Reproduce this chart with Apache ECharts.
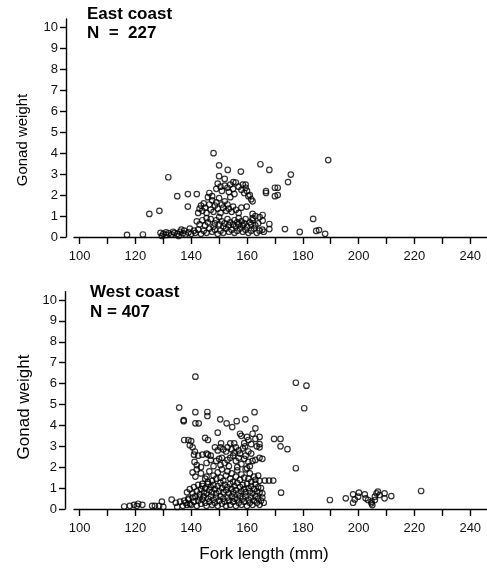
<!DOCTYPE html>
<html>
<head>
<meta charset="utf-8">
<script src="https://cdn.jsdelivr.net/npm/echarts@6/dist/echarts.min.js"></script>
<style>
html,body{margin:0;padding:0;background:#fff;}
#chart{width:487px;height:568px;}
</style>
</head>
<body>
<div id="chart"></div>
<script>
// ---- Data ----
const xTicks = [100,110,120,130,140,150,160,170,180,190,200,210,220,230,240];
const xLabels = [100,120,140,160,180,200,220,240];
const yTicks = [0,1,2,3,4,5,6,7,8,9,10];

const eastCoast = [
  [117,0.1],[122.7,0.12],[125,1.1],[128.6,1.25],[131.8,2.85],[135,1.95],[138.8,2.05],[142,2.05],[138.8,1.45],
  [148,4.0],[150,3.42],[153.1,3.2],[157.8,3.12],[164.8,3.47],[168,3.2],[175.7,2.98],[174.7,2.62],[189.1,3.67],
  [178.9,0.24],[183.7,0.86],[184.8,0.29],[185.8,0.33],[188,0.15],[173.6,0.38],[168,0.62],[168,0.38],
  [150,2.9],[152,2.77],[155.1,2.62],
  [129,0.2],[130,0.15],[131,0.22],[132,0.18],[133,0.12],[134,0.2],[135,0.15],[136,0.25],[137,0.18],[137.5,0.3],
  [138,0.12],[139,0.22],[139.5,0.4],[140,0.15],[141,0.3],[129.5,0.05],[131,0.1],[133.5,0.25],[135.5,0.05],[136.5,0.35],
  [141.5,0.2],[142.5,0.35],[143.5,0.15],[144.5,0.3],[145.5,0.2],[146.5,0.4],[147.5,0.25],[148.5,0.35],[149.5,0.15],
  [150.5,0.3],[151.5,0.2],[152.5,0.4],[153.5,0.25],[154.5,0.35],[155.5,0.2],[156.5,0.3],[157.5,0.4],[158.5,0.25],
  [159.5,0.35],[160.5,0.2],[161.5,0.3],[162.5,0.4],[163.5,0.2],[164.5,0.3],[165.5,0.35],[166,0.25],
  [142,0.75],[143,0.6],[144,0.8],[145,0.55],[146,0.7],[147,0.85],[148,0.5],[148.5,0.65],[149,0.8],[150,0.6],
  [151,0.75],[151.5,0.5],[152,0.65],[153,0.85],[153.5,0.55],[154,0.7],[155,0.6],[155.5,0.8],[156,0.5],[156.5,0.7],
  [157,0.6],[158,0.75],[158.5,0.55],[159,0.65],[159.5,0.85],[160,0.5],[161,0.7],[161.5,0.6],[162,0.8],[163,0.55],
  [164,0.65],[145.5,0.9],[150,0.95],[157,0.9],[162,0.9],
  [142.5,1.15],[143,1.35],[143.5,1.5],[144,1.25],[144.5,1.6],[145,1.4],[145.5,1.15],[146,1.9],[146.5,1.55],[147,1.3],
  [147.5,1.75],[148,1.2],[148.5,1.5],[149,1.65],[149.5,1.35],[150,1.85],[150.5,1.15],[151,1.55],[151.5,1.4],[152,1.7],
  [152.5,1.25],[153,1.55],[153.5,1.35],[154,1.9],[154.5,1.2],[155,1.45],[156,1.3],[157,1.15],[158,1.4],[159.9,1.45],
  [162,1.1],[163,1.0],[164.5,0.95],[165.6,0.78],[165.6,1.05],
  [146.5,2.1],[147.5,1.95],[149,2.3],[149.5,2.55],[150.5,2.4],[151,2.2],[152,2.45],[153,2.35],[153.5,2.15],[154,2.5],
  [155,2.3],[155.5,2.05],[156,2.6],[157,2.4],[158,2.25],[158.5,2.5],[159,2.1],[159.5,2.35],[160,2.2],[160.5,1.95],
  [161,2.0],[161.5,1.8],[162,1.7],[166.8,2.19],[166.8,2.1],[170,2.35],[171,2.35],[170,1.95],[171,2.0],[159.5,2.5]
];

const westCoast = [
  [141.5,6.33],[177.5,6.04],[181.3,5.9],[180.5,4.82],[135.7,4.85],[137.3,4.2],[137.3,4.25],[141.5,4.63],[145.8,4.64],
  [145.8,4.45],[141.5,4.1],[142.7,4.1],[150.4,4.29],[152.7,4.1],[154.7,3.92],[156.3,4.2],[159.4,4.29],[162.7,4.63],
  [163,3.86],[149.5,3.65],[177.5,1.95],[169.7,3.35],[172,3.35],[172,3.0],[174.5,2.86],[166.4,1.36],[167.9,1.36],
  [169.4,1.36],[172.2,0.78],[189.7,0.43],[195.4,0.51],[222.4,0.86],
  [198.0,0.70],[198.6,0.46],[198.0,0.30],[200.1,0.78],[199.8,0.59],[202.2,0.70],[202.5,0.51],[203.4,0.43],[204.6,0.35],
  [204.9,0.19],[205.8,0.59],[206.4,0.75],[206.9,0.83],[207.5,0.67],[209.3,0.75],[209.3,0.51],[211.7,0.62],[204.6,0.27],[205.8,0.43],
  [116,0.12],[118,0.15],[119.5,0.2],[120.5,0.15],[121,0.25],[122.5,0.2],[126,0.15],[127,0.15],[128.5,0.15],[129.5,0.35],
  [130,0.1],[133,0.45],[134.5,0.3],[136,0.35],[137.5,0.4],[139,0.5],[135,0.1],[137,0.15],[138.5,0.2],[139.5,0.25],
  [137.5,3.3],[139,3.3],[140,3.25],[139.5,3.05],[140.5,2.95],[141.3,2.75],[145,3.4],[146,3.3],[150.7,3.14],[154,3.14],
  [155.4,3.14],[157.5,3.6],[158,3.5],[159,3.15],[160,3.45],[160.5,3.3],[161.5,3.1],[162,3.6],[163,3.35],[164.5,3.45],
  [164.5,3.1],[164.5,2.95],[163.5,3.0],[159.3,3.0],
  [148.5,2.95],[149.5,2.8],[150.5,2.95],[151.5,2.85],[152.5,2.75],[153,2.95],[154.5,2.85],[155.5,2.7],[156,2.95],[157,2.8],
  [157.5,2.65],[158.5,2.9],[160.5,2.75],[161.5,2.65],[147,2.55],[146,2.6],
  [141,2.6],[142.5,2.55],[144,2.6],[145.5,2.65],[141.2,2.25],[142,2.1],[143.5,2.0],[140.5,1.75],[141.5,1.55],[149,2.3],
  [150,2.4],[151,2.45],[152,2.2],[153,2.35],[154,2.45],[155,2.55],[156,2.3],[157,2.45],[158,2.15],[159,2.4],
  [159.5,2.55],[160.5,2.25],[161,2.05],[162,2.3],[163,2.35],[164.5,2.45],[165.5,2.4],[148,2.05],[150.5,2.1],[153.5,2.05],
  [156.5,2.0],[160,1.95],[145.5,2.2],[147,2.35],
  [142,1.9],[143.5,1.7],[145,1.45],[145.5,1.55],[146.5,1.8],[147.5,1.35],[148,1.6],[149,1.45],[149.5,1.75],[150.5,1.5],
  [151,1.9],[151.5,1.35],[152.5,1.6],[153,1.8],[154,1.45],[154.5,1.7],[155,1.3],[156,1.55],[156.5,1.85],[157.5,1.4],
  [158,1.65],[159,1.5],[159.5,1.9],[160.5,1.45],[161,1.7],[161.5,1.3],[162.5,1.55],[163,1.4],[164,1.6],[164.5,1.35],
  [144,1.2],[146,1.3],
  [138.5,0.8],[139.5,0.95],[140.5,0.75],[141,1.05],[142,0.85],[142.5,1.15],[143,0.7],[143.5,0.95],[144,1.1],[144.5,0.8],
  [145,1.0],[145.5,0.75],[146,1.2],[146.5,0.9],[147,1.05],[147.5,0.8],[148,1.15],[148.5,0.95],[149,0.75],[149.5,1.1],
  [150,0.85],[150.5,1.25],[151,1.0],[151.5,0.8],[152,1.15],[152.5,0.9],[153,1.05],[153.5,0.75],[154,1.2],[154.5,0.95],
  [155,0.8],[155.5,1.1],[156,0.9],[156.5,1.25],[157,0.75],[157.5,1.05],[158,0.85],[158.5,1.15],[159,0.95],[159.5,0.8],
  [160,1.2],[160.5,1.0],[161,0.85],[161.5,1.1],[162,0.75],[162.5,0.95],[163,1.2],[163.5,0.85],[164,1.05],[164.5,0.8],
  [165,1.0],[165.5,0.75],
  [138,0.3],[139,0.45],[140,0.2],[140.5,0.55],[141,0.35],[141.5,0.6],[142,0.15],[142.5,0.4],[143,0.55],[143.5,0.25],
  [144,0.45],[144.5,0.6],[145,0.3],[145.5,0.15],[146,0.5],[146.5,0.35],[147,0.6],[147.5,0.2],[148,0.45],[148.5,0.3],
  [149,0.55],[149.5,0.15],[150,0.4],[150.5,0.6],[151,0.25],[151.5,0.5],[152,0.35],[152.5,0.15],[153,0.55],[153.5,0.4],
  [154,0.2],[154.5,0.6],[155,0.35],[155.5,0.5],[156,0.15],[156.5,0.45],[157,0.3],[157.5,0.6],[158,0.2],[158.5,0.5],
  [159,0.35],[159.5,0.6],[160,0.15],[160.5,0.45],[161,0.3],[161.5,0.55],[162,0.2],[162.5,0.4],[163,0.6],[163.5,0.3],
  [164,0.5],[164.5,0.2],[165,0.4],[165.5,0.55],[166,0.3]
];

const FONT = '"Liberation Sans", Arial, Helvetica, sans-serif';

function xAxisFor(gi){
  return {
    type:'value', gridIndex:gi, min:98, max:246,
    axisLine:{lineStyle:{color:'#000', width:1.4}},
    axisTick:{show:true, length:7, inside:false, customValues:xTicks, lineStyle:{color:'#000', width:1.4}},
    axisLabel:{customValues:xLabels, margin:13, fontSize:13, color:'#111', fontFamily:FONT},
    splitLine:{show:false}
  };
}
function yAxisFor(gi, off){
  return {
    type:'value', gridIndex:gi, min:0, max:10.4, offset:off,
    axisLine:{show:true, lineStyle:{color:'#000', width:1.4}},
    axisTick:{show:true, length:6, customValues:yTicks, lineStyle:{color:'#000', width:1.4}},
    axisLabel:{customValues:yTicks, margin:8, fontSize:13, color:'#111', fontFamily:FONT},
    splitLine:{show:false}
  };
}
function seriesFor(i, data){
  return {
    type:'scatter', xAxisIndex:i, yAxisIndex:i, data:data,
    symbol:'circle', symbolSize:5.5,
    itemStyle:{color:'rgba(255,255,255,0)', borderColor:'#000', borderWidth:1.2},
    animation:false
  };
}
function txt(x,y,text,size,bold,rot,align){
  return {type:'text', x:x, y:y, rotation:rot||0,
    style:{text:text, fontSize:size, fontWeight:bold?'bold':'normal', fontFamily:FONT, fill:'#000',
      textAlign:align||'left', align:align||'left', textVerticalAlign:'middle', verticalAlign:'middle'}};
}

const chart = echarts.init(document.getElementById('chart'), null, {renderer:'canvas'});
chart.setOption({
  backgroundColor:'#fff',
  animation:false,
  grid:[
    {left:74, right:0, top:19, height:218},
    {left:74, right:0, top:291.6, height:217.4}
  ],
  xAxis:[xAxisFor(0), xAxisFor(1)],
  yAxis:[yAxisFor(0,8), yAxisFor(1,9)],
  series:[seriesFor(0, eastCoast), seriesFor(1, westCoast)],
  graphic:[
    txt(87,14,'East coast',17,true),
    txt(87,33,'N  =  227',17,true),
    txt(90,292,'West coast',17,true),
    txt(90,312,'N = 407',17,true),
    txt(23,140,'Gonad weight',15,false,Math.PI/2,'center'),
    txt(24,407,'Gonad weight',17,false,Math.PI/2,'center'),
    txt(264,554,'Fork length (mm)',17,false,0,'center')
  ]
});
</script>
</body>
</html>
